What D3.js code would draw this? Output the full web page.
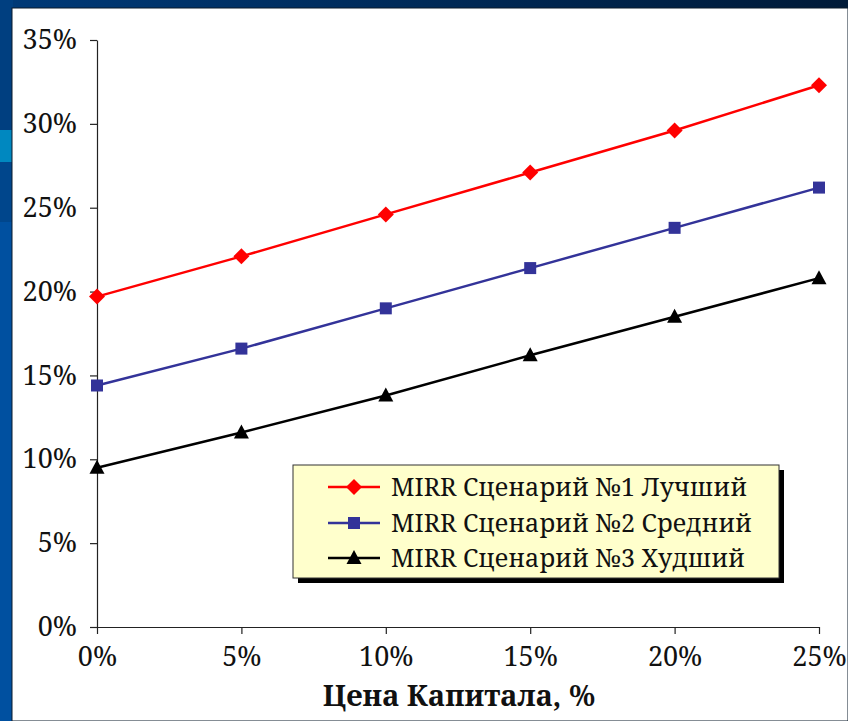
<!DOCTYPE html>
<html><head><meta charset="utf-8">
<script src="https://cdn.jsdelivr.net/npm/d3@7"></script>
<style>html,body{margin:0;padding:0;background:#fff;}svg{display:block;}</style>
</head><body>
<svg id="c" width="848" height="721"></svg>
<script>
const categories = [0, 5, 10, 15, 20, 25];
const xTickLabels = ["0%", "5%", "10%", "15%", "20%", "25%"];
const yTicks = [0, 5, 10, 15, 20, 25, 30, 35];
const seriesNames = ["MIRR Сценарий №1 Лучший", "MIRR Сценарий №2 Средний", "MIRR Сценарий №3 Худший"];
const best = [19.7, 22.1, 24.6, 27.1, 29.6, 32.3];
const middle = [14.4, 16.6, 19.0, 21.4, 23.8, 26.2];
const worst = [9.5, 11.6, 13.8, 16.2, 18.5, 20.8];
const xTitle = "Цена Капитала, %";

const svg = d3.select("#c");
const font = '"Noto Serif","Tinos","FreeSerif","Nimbus Roman","Liberation Serif","DejaVu Serif",serif';

// slide background pieces
const defs = svg.append("defs");
const g1 = defs.append("linearGradient").attr("id","topg").attr("x1","0").attr("x2","1");
g1.append("stop").attr("offset","0").attr("stop-color","#003a78");
g1.append("stop").attr("offset","1").attr("stop-color","#001a38");
svg.append("rect").attr("x",0).attr("y",0).attr("width",848).attr("height",721).attr("fill","#0050a0");
svg.append("rect").attr("x",0).attr("y",0).attr("width",848).attr("height",9).attr("fill","url(#topg)");
svg.append("rect").attr("x",0).attr("y",0).attr("width",13).attr("height",130).attr("fill","#003f80");
svg.append("rect").attr("x",0).attr("y",130).attr("width",13).attr("height",32).attr("fill","#0088c0");
svg.append("rect").attr("x",0).attr("y",162).attr("width",13).attr("height",60).attr("fill","#00468c");
svg.append("rect").attr("x",12).attr("y",8).attr("width",836).attr("height",713).attr("fill","#fff").attr("stroke","#0a1a2a").attr("stroke-width",1);

const x = d3.scaleLinear().domain([0,25]).range([97,819]);
const y = d3.scaleLinear().domain([0,35]).range([627,40]);

// axes
const xAxis = d3.axisBottom(x).tickValues(categories).tickFormat((d,i)=>xTickLabels[i]).tickSize(7).tickSizeOuter(0).tickPadding(14);
const gx = svg.append("g").attr("transform","translate(0,627)").call(xAxis);
const yAxis = d3.axisLeft(y).tickValues(yTicks).tickFormat(d=>d+"%").tickSize(7).tickSizeOuter(0).tickPadding(13);
const gy = svg.append("g").attr("transform","translate(97,0)").call(yAxis);
[gx,gy].forEach(g=>{
  g.attr("font-family",null).attr("font-size",null);
  g.selectAll("path,line").attr("stroke","#222").attr("stroke-width",1.2);
  g.selectAll("text").style("font-family",font).style("font-size","27px").attr("fill","#111");
});
gx.selectAll("text").attr("dy","0.68em");

svg.append("text").attr("x",459).attr("y",706).attr("text-anchor","middle")
  .style("font-family",font).style("font-size","29px").style("font-weight","bold").attr("fill","#111").text(xTitle);

const series = [
  {name: seriesNames[0], values: best, color: "#ff0000", shape: "diamond"},
  {name: seriesNames[1], values: middle, color: "#333399", shape: "square"},
  {name: seriesNames[2], values: worst, color: "#000000", shape: "triangle"}
];
function marker(g, shape, color, cx, cy){
  if(shape==="diamond"){
    g.append("path").attr("d",`M${cx},${cy-8}L${cx+8},${cy}L${cx},${cy+8}L${cx-8},${cy}Z`).attr("fill",color);
  } else if(shape==="square"){
    g.append("rect").attr("x",cx-6).attr("y",cy-6).attr("width",12).attr("height",12).attr("fill",color);
  } else {
    g.append("path").attr("d",`M${cx},${cy-8}L${cx+7.5},${cy+6}L${cx-7.5},${cy+6}Z`).attr("fill",color);
  }
}
const line = d3.line().x((d,i)=>x(categories[i])).y(d=>y(d));
series.forEach(s=>{
  svg.append("path").attr("d",line(s.values)).attr("fill","none").attr("stroke",s.color).attr("stroke-width",2.5);
  const g = svg.append("g");
  s.values.forEach((v,i)=>marker(g, s.shape, s.color, x(categories[i]), y(v)));
});

// legend
const lg = svg.append("g");
lg.append("rect").attr("x",298).attr("y",470).attr("width",486).attr("height",113).attr("fill","#000");
lg.append("rect").attr("x",293).attr("y",465).attr("width",486).attr("height",113).attr("fill","#ffffcc").attr("stroke","#333").attr("stroke-width",1);
const rowY = [487, 523, 558];
series.forEach((s,i)=>{
  lg.append("line").attr("x1",328).attr("x2",380).attr("y1",rowY[i]).attr("y2",rowY[i]).attr("stroke",s.color).attr("stroke-width",2.5);
  marker(lg, s.shape, s.color, 354, rowY[i]);
  lg.append("text").attr("x",391).attr("y",rowY[i]).attr("dy","0.35em").style("font-family",font).style("font-size","25px").attr("fill","#111").text(s.name);
});
</script>
</body></html>
